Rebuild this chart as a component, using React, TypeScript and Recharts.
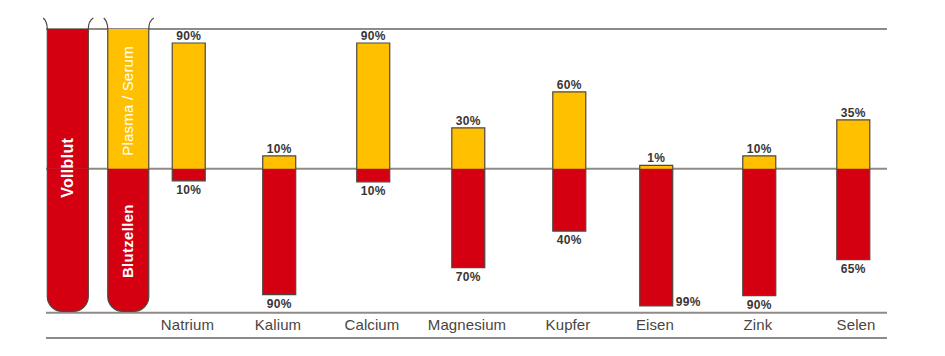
import { Bar, ComposedChart, LabelList, ReferenceLine, XAxis, YAxis } from "recharts"

const slotPlaces = [0.256, 0.975, 1.694, 2.77, 3.888, 5.018, 6.219, 7.253, 8.478, 9.596]
const slotNames = ["", "", "Natrium", "Kalium", "Calcium", "Magnesium", "Kupfer", "Eisen", "Zink", "Selen"]
const tubeTopLabels = ["", "Plasma / Serum"]
const tubeBottomLabels = ["Vollblut", "Blutzellen"]
// plotted heights, printed labels kept apart
const plasmaValues = [100, 100, 90, 9.3, 90, 29.3, 55, 2.5, 9.3, 35]
const cellValues = [-102, -102, -8.6, -90, -9.3, -70.7, -44.5, -98, -90.7, -65]
const plasmaLabels = ["", "", "90%", "10%", "90%", "30%", "60%", "1%", "10%", "35%"]
const cellLabels = ["", "", "10%", "90%", "10%", "70%", "40%", "99%", "90%", "65%"]
const ruleLevels = [100, 0, -103, -121]

const chartData = slotPlaces.map((place, i) => ({
  place,
  name: slotNames[i],
  plasma: plasmaValues[i],
  cells: cellValues[i],
  plasmaLabel: plasmaLabels[i],
  cellLabel: cellLabels[i],
}))

const RED = "#d40012"
const YELLOW = "#ffc000"
const EDGE = "#4f4640"
const RULE = "#8f8a85"
const INK = "#3a3532"
const TICK_INK = "#4a4542"
const FONT = "'Liberation Sans', Arial, sans-serif"

const TUBE_EXTRA = 8

function box(props: any) {
  const top = Math.min(props.y, props.y + props.height)
  const h = Math.abs(props.height)
  return { x: props.x, top, w: props.width, h }
}

function PlasmaShape(props: any) {
  const { x, top, w, h } = box(props)
  if (props.index < 2) {
    const l = x - TUBE_EXTRA / 2
    const r = l + w + TUBE_EXTRA
    const lip = `M${l - 4} ${top - 11} Q${l} ${top - 7} ${l} ${top} L${l} ${top + h} M${r} ${top + h} L${r} ${top} Q${r} ${top - 8} ${r + 5} ${top - 11}`
    return (
      <g>
        <rect x={l} y={top} width={r - l} height={h} fill={props.index === 0 ? RED : YELLOW} />
        <path d={lip} fill="none" stroke={EDGE} strokeWidth={1.2} />
      </g>
    )
  }
  return (
    <g>
      <rect x={x} y={top} width={w} height={h} fill={YELLOW} />
      <path d={`M${x} ${top + h} L${x} ${top} L${x + w} ${top} L${x + w} ${top + h}`} fill="none" stroke={EDGE} strokeWidth={1.2} />
    </g>
  )
}

function CellShape(props: any) {
  const { x, top, w, h } = box(props)
  if (props.index < 2) {
    const l = x - TUBE_EXTRA / 2
    const r = l + w + TUBE_EXTRA
    const b = top + h
    const d = `M${l} ${top} L${l} ${b - 15} A15 15 0 0 0 ${l + 15} ${b} L${r - 15} ${b} A15 15 0 0 0 ${r} ${b - 15} L${r} ${top}`
    return <path d={d} fill={RED} stroke={EDGE} strokeWidth={1.2} />
  }
  return (
    <g>
      <rect x={x} y={top} width={w} height={h} fill={RED} />
      <path d={`M${x} ${top} L${x} ${top + h} L${x + w} ${top + h} L${x + w} ${top}`} fill="none" stroke={EDGE} strokeWidth={1.2} />
    </g>
  )
}

function PlasmaLabel(props: any) {
  const { x, y, width, height, value } = props
  if (value === "" || value == null) return null
  const top = Math.min(y, y + height)
  return (
    <text x={x + width / 2} y={top - 3} textAnchor="middle" fontFamily={FONT} fontSize={12} fontWeight={700} letterSpacing={0.3} fill={INK}>
      {value}
    </text>
  )
}

function CellLabel(props: any) {
  const { x, y, width, height, value, index } = props
  if (value === "" || value == null) return null
  const bottom = Math.max(y, y + height)
  const sideways = slotNames[index] === "Eisen"
  return (
    <text
      x={sideways ? x + width + 3 : x + width / 2}
      y={sideways ? bottom : bottom + 13}
      textAnchor={sideways ? "start" : "middle"}
      fontFamily={FONT}
      fontSize={12}
      fontWeight={700}
      letterSpacing={0.3}
      fill={INK}
    >
      {value}
    </text>
  )
}

function TubeLabel(props: any) {
  const { x, y, width, height, index, above } = props
  const text = above ? tubeTopLabels[index] : tubeBottomLabels[index]
  if (!text) return null
  const top = Math.min(y, y + height)
  const h = Math.abs(height)
  // Vollblut runs across the whole tube, so it sits at the split line
  const cy = index === 0 ? top - 1 : above ? top + h / 2 + 2 : top + h / 2 + 1
  const cx = x + width / 2 - 0.5
  return (
    <text
      x={cx}
      y={cy}
      transform={`rotate(-90 ${cx} ${cy})`}
      textAnchor="middle"
      dominantBaseline="central"
      fontFamily={FONT}
      fontSize={index === 0 ? 16 : 15}
      fontWeight={above ? 400 : 700}
      letterSpacing={above ? 0.2 : 0.3}
      fill="#ffffff"
    >
      {text}
    </text>
  )
}

function NameTick(props: any) {
  const { x, y, payload } = props
  const name = slotNames[slotPlaces.indexOf(payload.value)]
  if (!name) return null
  return (
    <text x={name === "Selen" ? x + 3 : x - 1} y={y - 16} textAnchor="middle" fontFamily={FONT} fontSize={15} letterSpacing={0.1} fill={TICK_INK}>
      {name}
    </text>
  )
}

export default function App() {
  return (
    <div style={{ margin: -8, width: 945, height: 356 }}>
      <ComposedChart
        width={945}
        height={356}
        data={chartData}
        stackOffset="sign"
        barSize={33}
        margin={{ top: 29, right: 58, bottom: 17, left: 46 }}
      >
        <YAxis type="number" domain={[-121, 100]} hide />
        <XAxis
          type="number"
          dataKey="place"
          domain={[0, 10]}
          ticks={slotPlaces}
          interval={0}
          tick={<NameTick />}
          tickLine={false}
          axisLine={false}
          height={1}
        />
        {ruleLevels.map((level) => (
          <ReferenceLine key={level} y={level} stroke={RULE} strokeWidth={2} zIndex={0} />
        ))}
        <Bar dataKey="plasma" stackId="blood" shape={<PlasmaShape />} isAnimationActive={false}>
          <LabelList dataKey="plasmaLabel" content={<PlasmaLabel />} />
          <LabelList dataKey="name" content={<TubeLabel above />} />
        </Bar>
        <Bar dataKey="cells" stackId="blood" shape={<CellShape />} isAnimationActive={false}>
          <LabelList dataKey="cellLabel" content={<CellLabel />} />
          <LabelList dataKey="name" content={<TubeLabel />} />
        </Bar>
      </ComposedChart>
    </div>
  )
}
